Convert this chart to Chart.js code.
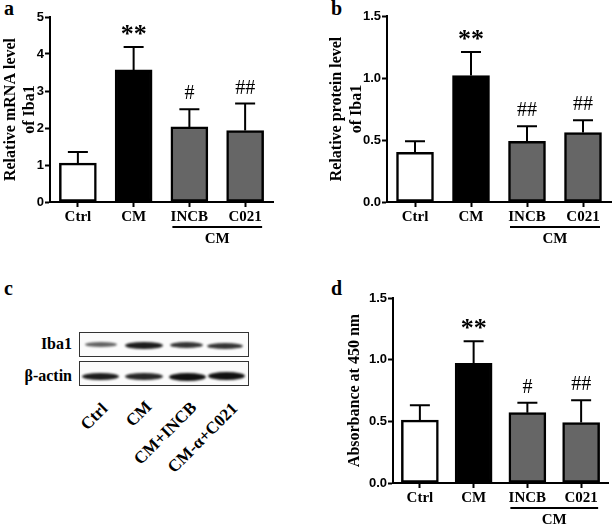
<!DOCTYPE html>
<html>
<head>
<meta charset="utf-8">
<script src="https://cdn.jsdelivr.net/npm/chart.js@4.4.1/dist/chart.umd.min.js"></script>
<style>
  body { margin: 0; background: #fff; }
  #page { position: relative; width: 614px; height: 529px; overflow: hidden; background: #fff; font-family: "Liberation Serif", serif; }
  .pane { position: absolute; }
  .letter { position: absolute; font: bold 20px/20px "Liberation Serif", serif; color: #000; }
  .blotbox { position: absolute; border: 1.5px solid #333; box-sizing: border-box; background: #fbfbfb; }
  .band { position: absolute; border-radius: 50%; background: #111; filter: blur(1.3px); }
  .blotlabel { position: absolute; width: 80px; text-align: right; font: bold 16px/18px "Liberation Serif", serif; color: #000; }
  .lane { position: absolute; width: 150px; height: 18px; text-align: right; white-space: nowrap;
          font: bold 17px/18px "Liberation Serif", serif; color: #000; transform-origin: 100% 50%; transform: rotate(-45deg); }
</style>
</head>
<body>
<div id="page">
  <div class="letter" style="left:4px; top:-2px;">a</div>
  <div class="letter" style="left:331px; top:-2px;">b</div>
  <div class="letter" style="left:4px; top:278px;">c</div>
  <div class="letter" style="left:331px; top:278px;">d</div>

  <div class="pane" style="left:0; top:0;"><canvas id="chartA" width="307" height="265"></canvas></div>
  <div class="pane" style="left:307px; top:0;"><canvas id="chartB" width="307" height="265"></canvas></div>
  <div class="pane" style="left:307px; top:265px;"><canvas id="chartD" width="307" height="264"></canvas></div>

  <div id="blot"></div>
</div>

<script>
// groups and values (mean, upper error)
const groups = ['Ctrl', 'CM', 'INCB', 'C021'];
const barColors = ['#ffffff', '#000000', '#666666', '#666666'];

const mrnaMean = [1.05, 3.57, 2.03, 1.93];
const mrnaErr = [0.30, 0.62, 0.48, 0.73];
const mrnaSig = ['', '**', '#', '##'];

const proteinMean = [0.40, 1.02, 0.49, 0.56];
const proteinErr = [0.09, 0.19, 0.12, 0.10];
const proteinSig = ['', '**', '##', '##'];

const absMean = [0.51, 0.97, 0.57, 0.49];
const absErr = [0.12, 0.18, 0.08, 0.18];
const absSig = ['', '**', '#', '##'];

const blotLanes = ['Ctrl', 'CM', 'CM+INCB', 'CM-\u03b1+C021'];

Chart.defaults.font.family = '"Liberation Serif", serif';
Chart.defaults.color = '#000';

// error bars, significance marks, group bracket and y title
const extrasPlugin = {
  id: 'extras',
  afterDatasetsDraw(chart, args, opts) {
    const ctx = chart.ctx;
    const y = chart.scales.y;
    const bars = chart.getDatasetMeta(0).data;
    ctx.save();
    ctx.strokeStyle = '#000';
    ctx.fillStyle = '#000';
    ctx.lineWidth = 2;
    bars.forEach((bar, i) => {
      const top = y.getPixelForValue(opts.means[i] + opts.errs[i]);
      const base = y.getPixelForValue(opts.means[i]);
      ctx.beginPath();
      ctx.moveTo(bar.x, base);
      ctx.lineTo(bar.x, top);
      ctx.moveTo(bar.x - 10, top);
      ctx.lineTo(bar.x + 10, top);
      ctx.stroke();
      const s = opts.sigs[i];
      if (s) {
        ctx.textAlign = 'center';
        ctx.textBaseline = 'alphabetic';
        if (s.includes('*')) {
          ctx.font = 'bold 26px "Liberation Serif"';
          ctx.fillText(s, bar.x, top - 5);
        } else {
          ctx.font = '20px "Liberation Serif"';
          ctx.fillText(s, bar.x, top - 10);
        }
      }
    });
    // CM bracket under INCB and C021
    const bottom = chart.chartArea.bottom;
    ctx.beginPath();
    ctx.moveTo(bars[2].x - 17, bottom + 25);
    ctx.lineTo(bars[3].x + 17, bottom + 25);
    ctx.stroke();
    ctx.font = 'bold 15px "Liberation Serif"';
    ctx.textAlign = 'center';
    ctx.textBaseline = 'middle';
    ctx.fillText('CM', (bars[2].x + bars[3].x) / 2, bottom + 37);
    // y title
    const cy = (chart.chartArea.top + chart.chartArea.bottom) / 2;
    ctx.font = 'bold 16px "Liberation Serif"';
    opts.title.forEach((line, k) => {
      ctx.save();
      ctx.translate(opts.titleX[k], cy);
      ctx.rotate(-Math.PI / 2);
      ctx.fillText(line, 0, 0);
      ctx.restore();
    });
    ctx.restore();
  }
};

function makeChart(id, means, errs, sigs, cfg) {
  new Chart(document.getElementById(id), {
    type: 'bar',
    data: {
      labels: groups,
      datasets: [{
        data: means,
        backgroundColor: barColors,
        borderColor: '#000',
        borderWidth: 2.5,
        borderSkipped: false,
        barThickness: 37
      }]
    },
    options: {
      responsive: false,
      animation: false,
      devicePixelRatio: 1,
      layout: { padding: { top: cfg.top, right: cfg.right, left: 0, bottom: 0 } },
      plugins: {
        legend: { display: false },
        tooltip: { enabled: false },
        extras: { means: means, errs: errs, sigs: sigs, title: cfg.title, titleX: cfg.titleX }
      },
      scales: {
        x: {
          offset: true,
          grid: { offset: false, drawOnChartArea: false, drawTicks: true, tickLength: 5, tickWidth: 2, tickColor: '#000' },
          border: { display: true, color: '#000', width: 2 },
          ticks: { font: { weight: 'bold', size: 15 }, color: '#000', padding: 1, maxRotation: 0 },
          afterFit: s => { s.height = cfg.xHeight; }
        },
        y: {
          min: 0,
          max: cfg.max,
          ticks: {
            stepSize: cfg.step,
            font: { family: '"Liberation Sans", Arial', weight: 'bold', size: 13 },
            color: '#000',
            padding: 1,
            callback: v => v.toFixed(cfg.decimals)
          },
          grid: { drawOnChartArea: false, drawTicks: true, tickLength: 5, tickWidth: 2, tickColor: '#000' },
          border: { display: true, color: '#000', width: 2 },
          afterFit: s => { s.width = cfg.yWidth; }
        }
      }
    },
    plugins: [extrasPlugin]
  });
}

makeChart('chartA', mrnaMean, mrnaErr, mrnaSig, {
  max: 5, step: 1, decimals: 0, top: 17, right: 34, yWidth: 50, xHeight: 63,
  title: ['Relative mRNA level', 'of Iba1'], titleX: [11, 30]
});
makeChart('chartB', proteinMean, proteinErr, proteinSig, {
  max: 1.5, step: 0.5, decimals: 1, top: 16, right: 3, yWidth: 80, xHeight: 63,
  title: ['Relative protein level', 'of Iba1'], titleX: [30, 50]
});
makeChart('chartD', absMean, absErr, absSig, {
  max: 1.5, step: 0.5, decimals: 1, top: 33, right: 6, yWidth: 86, xHeight: 46,
  title: ['Absorbance at 450 nm'], titleX: [48]
});

// panel c: western blot drawn with plain elements
const blot = document.getElementById('blot');
function addEl(cls, style, text) {
  const d = document.createElement('div');
  d.className = cls;
  d.setAttribute('style', style);
  if (text) d.textContent = text;
  blot.appendChild(d);
}
addEl('blotbox', 'left:79px; top:332px; width:170px; height:25px;');
addEl('blotbox', 'left:79px; top:361px; width:170px; height:25px;');
// [x1, x2, centre y, height, opacity]
const iba1Bands = [[85, 117, 344, 5, 0.65], [125, 163, 345.5, 7, 0.95], [170, 203, 345, 6, 0.85], [207, 243, 345.5, 6, 0.85]];
const actinBands = [[82, 119, 376.5, 7, 0.95], [125, 163, 376.5, 7, 0.9], [169, 206, 377, 8, 1], [208, 245, 376, 8, 1]];
iba1Bands.concat(actinBands).forEach(b => {
  addEl('band', `left:${b[0]}px; top:${b[2] - b[3] / 2}px; width:${b[1] - b[0]}px; height:${b[3]}px; opacity:${b[4]};`);
});
addEl('blotlabel', 'left:-8px; top:335px;', 'Iba1');
addEl('blotlabel', 'left:-8px; top:367px;', '\u03b2-actin');
const laneEnds = [[105, 406], [149, 404], [194, 405], [235, 406]];
blotLanes.forEach((name, i) => {
  addEl('lane', `left:${laneEnds[i][0] - 150}px; top:${laneEnds[i][1] - 9}px;`, name);
});
</script>
</body>
</html>
